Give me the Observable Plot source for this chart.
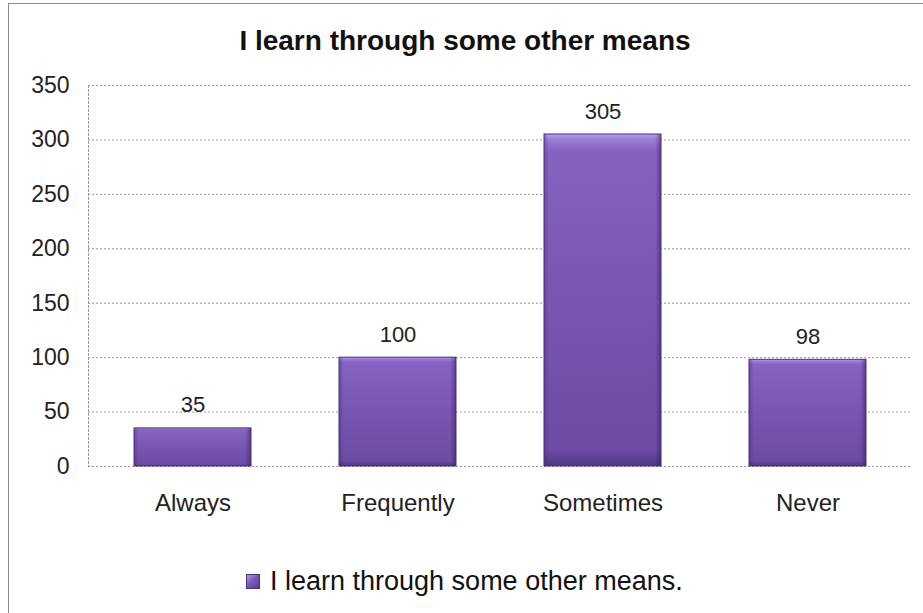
<!DOCTYPE html>
<html>
<head>
<meta charset="utf-8">
<script src="https://cdn.jsdelivr.net/npm/d3@7"></script>
<script src="https://cdn.jsdelivr.net/npm/@observablehq/plot@0.6"></script>
<style>
  html, body { margin: 0; padding: 0; background: #fff; }
  body { width: 923px; height: 613px; position: relative; overflow: hidden; font-family: Arial, "Liberation Sans", sans-serif; color: #222; }
  #frame { position: absolute; left: 8px; top: 3px; width: 940px; height: 640px; border: 1px solid #8c8c8c; box-sizing: border-box; }
  #title { position: absolute; left: 0; top: 27px; width: 930px; text-align: center; font-weight: bold; font-size: 28px; line-height: 28px; color: #111; }
  #chart { position: absolute; left: 0; top: 60px; }
  #legend { position: absolute; left: 246px; top: 568px; font-size: 27px; line-height: 27px; color: #111; white-space: nowrap; }
  #legend .sw { display: inline-block; width: 14px; height: 15px; margin-right: 10px; vertical-align: 1px;
    background: linear-gradient(135deg, #b49be6 0%, #7b58b6 45%, #5a3f94 100%); border: 1px solid #4b3380; box-sizing: border-box; }
</style>
</head>
<body>
<div id="frame"></div>
<div id="title">I learn through some other means</div>
<div id="chart"></div>
<div id="legend"><span class="sw"></span>I learn through some other means.</div>
<script>
const categories = ["Always", "Frequently", "Sometimes", "Never"];
const values = [35, 100, 305, 98];
const yTicks = [0, 50, 100, 150, 200, 250, 300, 350];
const seriesName = "I learn through some other means.";

const data = categories.map((c, i) => ({category: c, value: values[i]}));

const plot = Plot.plot({
  width: 923,
  height: 480,
  marginTop: 25,
  marginBottom: 74,
  marginLeft: 88,
  marginRight: 12,
  style: {fontFamily: "Arial, 'Liberation Sans', sans-serif", color: "#222", background: "transparent"},
  x: {domain: categories, paddingInner: 0.43, paddingOuter: 0.215, label: null},
  y: {domain: [0, 350], ticks: yTicks, label: null},
  marks: [
    Plot.gridY(yTicks, {stroke: "#9a9a9a", strokeOpacity: 1, strokeDasharray: "2,2"}),
    Plot.frame({anchor: "left", stroke: "#9a9a9a", strokeDasharray: "2,2"}),
    Plot.barY(data, {x: "category", y: "value", fill: "url(#barGradV)"}),
    Plot.barY(data, {x: "category", y: "value", fill: "url(#barGradH)"}),
    Plot.barY(data, {x: "category", y: "value", fill: "none", stroke: "#4a3180", strokeWidth: 1}),
    Plot.text(data, {x: "category", y: "value", text: d => String(d.value), dy: -23, fontSize: 22, fill: "#222", lineAnchor: "middle"}),
    Plot.axisY(yTicks, {tickSize: 0, tickPadding: 19, fontSize: 23, fill: "#222", label: null}),
    Plot.axisX({tickSize: 0, tickPadding: 27, fontSize: 24, fill: "#222", label: null})
  ]
});

const svg = d3.select(plot);
const defs = svg.insert("defs", ":first-child");
const gv = defs.append("linearGradient").attr("id", "barGradV").attr("x1", 0).attr("y1", 0).attr("x2", 0).attr("y2", 1);
[[0, "#b7a0ea"], [0.015, "#9c7fd8"], [0.05, "#8563c2"], [0.5, "#7856b2"], [0.95, "#6c4ca4"], [1, "#4e3584"]]
  .forEach(([o, c]) => gv.append("stop").attr("offset", o).attr("stop-color", c));
const gh = defs.append("linearGradient").attr("id", "barGradH").attr("x1", 0).attr("y1", 0).attr("x2", 1).attr("y2", 0);
[[0, "#3a2060", 0.35], [0.04, "#3a2060", 0], [0.95, "#3a2060", 0], [1, "#2a1450", 0.5]]
  .forEach(([o, c, a]) => gh.append("stop").attr("offset", o).attr("stop-color", c).attr("stop-opacity", a));

document.getElementById("chart").appendChild(plot);
</script>
</body>
</html>
